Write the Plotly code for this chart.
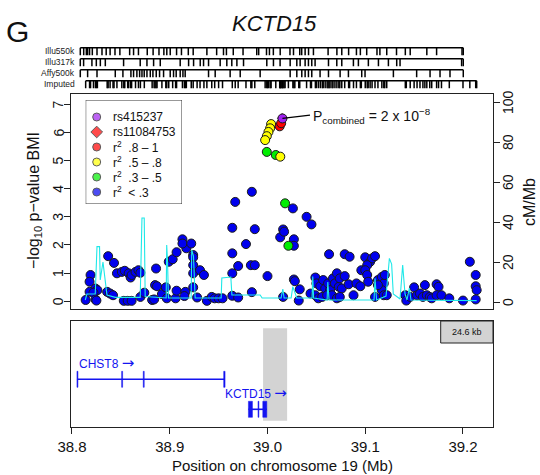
import plotly.graph_objects as go

W, H = 540, 475
FONT = "Liberation Sans, Arial, Helvetica, sans-serif"

# ---------------- data ----------------
blue_pos = [
    38.984, 38.967, 38.964, 38.987, 39.013, 38.978, 38.964, 38.970, 38.983, 38.987,
    38.964, 39.000, 38.984, 38.964, 38.970, 38.837, 38.843, 38.819, 38.818, 38.824,
    38.826, 38.818, 38.822, 38.814, 38.824, 38.825, 38.836, 38.839, 38.842, 38.846,
    38.851, 38.854, 38.858, 38.860, 38.861, 38.865, 38.868, 38.870, 38.853, 38.857,
    38.861, 38.870, 38.874, 38.886, 38.885, 38.887, 38.882, 38.884, 38.892, 38.896,
    38.899, 38.903, 38.897, 38.906, 38.907, 38.916, 38.907, 38.917, 38.913, 38.913,
    38.922, 38.924, 38.924, 38.924, 38.924, 38.924, 38.931, 38.935, 38.928, 38.938,
    38.943, 38.946, 38.950, 38.954, 38.915,
    39.026, 39.040, 39.045, 39.016, 39.017, 39.027, 39.027, 39.063, 39.079, 39.084,
    39.027, 39.028, 39.033, 39.016, 39.032, 39.049, 39.050, 39.054, 39.057, 39.059,
    39.062, 39.064, 39.067, 39.069, 39.071, 39.073, 39.074, 39.076, 39.079, 39.044,
    39.049, 39.052, 39.056, 39.061, 39.066, 39.071, 39.074, 39.083, 39.088, 39.091,
    39.095, 39.100, 39.105, 39.107, 39.110, 39.102, 39.096, 39.100, 39.102, 39.103,
    39.113, 39.117, 39.119, 39.120, 39.117, 39.119, 39.113, 39.110, 39.122, 39.141,
    39.142, 39.146, 39.150, 39.153, 39.156, 39.159, 39.161, 39.163, 39.166, 39.168,
    39.173, 39.175, 39.173, 39.178, 39.186, 39.200, 39.207, 39.213, 39.213, 39.214,
    39.213,
]
blue_logp = [
    3.89, 3.53, 2.61, 2.56, 2.27, 2.03, 1.70, 1.25, 1.28, 1.28,
    0.99, 0.89, 0.32, 0.19, 0.13, 1.60, 1.36, 0.93, 0.69, 0.45,
    0.39, 0.33, 0.30, 0.04, 0.06, 0.02, 0.33, 0.27, 0.21, 0.99,
    1.04, 1.08, 0.99, 0.84, 0.93, 1.04, 1.10, 1.01, 0.01, 0.01,
    0.01, 0.15, 0.30, 1.16, 0.57, 0.53, 0.04, 0.06, 0.25, 0.49,
    1.40, 1.49, 0.10, 0.10, 0.37, 0.33, 1.74, 1.88, 2.20, 2.05,
    2.05, 1.64, 1.56, 1.28, 0.99, 0.49, 1.10, 0.93, 0.13, 0.01,
    0.15, 0.10, 0.10, 0.10, 0.18,
    3.30, 3.00, 2.73, 2.55, 2.47, 2.20, 1.97, 1.67, 1.67, 1.58,
    0.77, 0.71, 0.42, 0.15, 0.02, 0.84, 0.63, 0.53, 0.75, 0.45,
    0.63, 0.39, 0.81, 0.63, 0.99, 0.51, 0.81, 0.45, 0.89, 0.27,
    0.21, 0.10, 0.15, 0.21, 0.21, 0.10, 0.15, 0.60, 0.21, 0.63,
    0.53, 1.56, 1.40, 1.52, 1.60, 1.28, 1.10, 1.10, 0.93, 0.69,
    0.75, 0.86, 0.63, 0.93, 0.39, 0.21, 0.57, 0.15, 0.21, 0.21,
    0.02, 0.15, 0.49, 0.21, 0.27, 0.15, 0.57, 0.21, 0.15, 0.10,
    0.60, 0.51, 0.21, 0.21, 0.10, 0.02, 1.40, 0.93, 0.53, 0.39,
    0.06,
]
green_pos = [38.9993, 39.0085, 39.0180, 39.0214]
green_logp = [5.31, 5.20, 3.48, 1.97]
yellow_pos = [39.0037, 39.0027, 39.0010, 38.9993, 38.9976, 39.0131]
yellow_logp = [6.30, 6.15, 6.02, 5.87, 5.73, 5.14]
red_pos = [39.0125, 39.0140]
red_logp = [6.22, 6.33]
diamond_pos = [39.0150]
diamond_logp = [6.51]
top_pos = [39.0153]
top_logp = [6.50]

recomb_pos = [38.8136, 38.8153, 38.8238, 38.8256, 38.8282, 38.8289, 38.8317, 38.8340, 38.8358, 38.8443,
              38.8698, 38.8716, 38.8739, 38.8749, 38.8964, 38.8969, 38.8977, 38.8987, 38.9219, 38.9225,
              38.9243, 38.9260, 38.9526, 38.9533, 38.9625, 38.9636, 38.9925, 38.9945, 39.0139, 39.0157,
              39.0170, 39.0242, 39.0259, 39.0300, 39.0456, 39.0463, 39.0472, 39.0610, 39.0617, 39.0630,
              39.1090, 39.1100, 39.1116, 39.1213, 39.1247, 39.1270, 39.1287, 39.1356, 39.1383, 39.1407,
              39.1427, 39.1451, 39.1468, 39.2140]
recomb_rate = [1, 4, 4, 27.7, 27.7, 11, 20, 11, 3.5, 2.3,
               2.3, 42, 42, 2.7, 2, 28.5, 21, 2, 2, 26,
               23, 2, 2, 12, 12.5, 3.5, 3.5, 2, 2, 6.5,
               2, 2, 7.7, 2, 2, 12.7, 2, 1, 10, 1,
               1, 11.8, 1, 3, 21.8, 19, 4, 1.5, 18.5, 4,
               1, 7, 1, 0.7]

illu550k = [38.8085, 38.8120, 38.8147, 38.8160, 38.8180, 38.8208, 38.8256, 38.8307, 38.8350, 38.8390,
            38.8440, 38.8490, 38.8590, 38.8630, 38.8680, 38.8770, 38.8830, 38.8890, 38.8940, 38.8970,
            38.9005, 38.9070, 38.9120, 38.9190, 38.9240, 38.9380, 38.9480, 38.9550, 38.9580, 38.9650,
            38.9750, 38.9890, 38.9910, 38.9990, 39.0020, 39.0060, 39.0130, 39.0230, 39.0266, 39.0330,
            39.0350, 39.0385, 39.0420, 39.0470, 39.0620, 39.0710, 39.0760, 39.0830, 39.0910, 39.0950,
            39.1015, 39.1120, 39.1150, 39.1220, 39.1320, 39.1410, 39.1460, 39.1630, 39.1730, 39.1990,
            39.2003]
illu317k = [38.8085, 38.8119, 38.8204, 38.8249, 38.8290, 38.8341, 38.8528, 38.8698, 38.8767, 38.8835,
            38.8903, 38.9107, 38.9193, 38.9244, 38.9312, 38.9346, 38.9397, 38.9516, 38.9584, 38.9635,
            38.9687, 38.9755, 38.9993, 39.0061, 39.0129, 39.0232, 39.0300, 39.0334, 39.0385, 39.0419,
            39.0453, 39.0487, 39.0624, 39.0709, 39.0760, 39.0879, 39.0930, 39.1032, 39.1135, 39.1237,
            39.1322, 39.1356, 39.1986, 39.2003]
affy500k = [38.8085, 38.8160, 38.8256, 38.8443, 38.8521, 38.8603, 38.8630, 38.8664, 38.8692, 38.8716,
            38.8739, 38.8767, 38.8801, 38.8828, 38.8862, 38.8896, 38.8937, 38.9005, 38.9039, 38.9066,
            38.9107, 38.9135, 38.9158, 38.9397, 38.9465, 38.9618, 38.9721, 38.9925, 39.0232, 39.0300,
            39.0351, 39.0385, 39.0419, 39.0453, 39.0538, 39.0624, 39.0743, 39.0828, 39.0964, 39.0998,
            39.1288, 39.1526, 39.1663, 39.1765, 39.1867, 39.2003]
imputed = sorted(set(blue_pos + green_pos + yellow_pos + red_pos + diamond_pos + top_pos))
track_names = ["Imputed", "Affy500k", "Illu317k", "Illu550k"]
track_sets = [imputed, affy500k, illu317k, illu550k]

gene_names = ["CHST8", "KCTD15"]
gene_start = [38.8051, 38.9805]
gene_end = [38.9565, 38.9993]
gene_row = [47.7, 17.7]
exon_start = [[38.8051, 38.8508, 38.8729, 38.9552], [38.9805, 38.9903, 38.9952]]
exon_end = [[38.8061, 38.8518, 38.8739, 38.9566], [38.9846, 38.9912, 38.9993]]
region_start, region_end = 38.9955, 39.0201
region_label = "24.6 kb"

x_ticks = [38.8, 38.9, 39.0, 39.1, 39.2]
y_ticks = [0, 1, 2, 3, 4, 5, 6, 7]
r_ticks = [0, 20, 40, 60, 80, 100]

# --------------- helpers (layout only) ---------------
def px(p):
    return p / W

def py(p):
    return 1 - p / H

XR = [38.799, 39.2307]
XDOM = [px(71), px(493)]
ARROW = "<span style='font-family:DejaVu Sans;font-size:15px'>\u2192</span>"

fig = go.Figure()

MK_LINE = dict(color="#1a1a1a", width=1)

# recombination line
fig.add_trace(go.Scatter(x=recomb_pos, y=recomb_rate, mode="lines", xaxis="x", yaxis="y2",
                         line=dict(color="#1EE8E8", width=1.1), hoverinfo="skip"))

fig.add_trace(go.Scatter(x=blue_pos, y=blue_logp, mode="markers", xaxis="x", yaxis="y",
                         marker=dict(size=9, color="#0000EE", line=MK_LINE)))
fig.add_trace(go.Scatter(x=green_pos, y=green_logp, mode="markers", xaxis="x", yaxis="y",
                         marker=dict(size=9, color="#00EE00", line=MK_LINE)))
fig.add_trace(go.Scatter(x=yellow_pos, y=yellow_logp, mode="markers", xaxis="x", yaxis="y",
                         marker=dict(size=9, color="#FFFF00", line=MK_LINE)))
fig.add_trace(go.Scatter(x=red_pos, y=red_logp, mode="markers", xaxis="x", yaxis="y",
                         marker=dict(size=9, color="#FF0000", line=MK_LINE)))
fig.add_trace(go.Scatter(x=diamond_pos, y=diamond_logp, mode="markers", xaxis="x", yaxis="y",
                         marker=dict(size=7, symbol="diamond", color="#FF0000", line=MK_LINE)))
fig.add_trace(go.Scatter(x=top_pos, y=top_logp, mode="markers", xaxis="x", yaxis="y",
                         marker=dict(size=9, color="#A020F0", line=MK_LINE)))

# SNP platform tracks
for i, (name, pos) in enumerate(zip(track_names, track_sets)):
    xs, ys = [], []
    for p in pos:
        xs += [p, p, None]
        ys += [i - 0.34, i + 0.34, None]
    xs += [pos[0], pos[-1], None]
    ys += [i + 0.34, i + 0.34, None]
    fig.add_trace(go.Scatter(x=xs, y=ys, mode="lines", xaxis="x3", yaxis="y4",
                             line=dict(color="black", width=1.5), hoverinfo="skip"))

# legend keys
leg_rows = [17, 32, 47, 62, 77, 92]
leg_symbols = ["circle", "diamond", "circle", "circle", "circle", "circle"]
leg_colors = ["#A020F0", "#FF0000", "#FF0000", "#FFFF00", "#00EE00", "#0000EE"]
leg_texts = ["rs415237", "rs11084753", "r<sup>2</sup>  .8 \u2013 1", "r<sup>2</sup>  .5 \u2013 .8",
             "r<sup>2</sup>  .3 \u2013 .5", "r<sup>2</sup>  &lt; .3"]
fig.add_trace(go.Scatter(x=[11] * 6, y=leg_rows, mode="markers", xaxis="x4", yaxis="y5",
                         marker=dict(size=[8, 9, 8, 8, 8, 8], symbol=leg_symbols, color=leg_colors,
                                     line=MK_LINE)))

shapes = []
annotations = []

# legend box
shapes.append(dict(type="rect", xref="x4", yref="y5", x0=0, x1=96.3, y0=0, y1=104,
                   line=dict(color="#333", width=1), fillcolor="rgba(0,0,0,0)"))
for r, t in zip(leg_rows, leg_texts):
    annotations.append(dict(xref="x4", yref="y5", x=25, y=r, text=t, showarrow=False,
                            xanchor="left", yanchor="middle", font=dict(size=12, color="#111")))

# P combined annotation
lab_x, lab_y = 39.0447, 6.60
shapes.append(dict(type="line", xref="x", yref="y", x0=top_pos[0], y0=top_logp[0], x1=lab_x - 0.0012,
                   y1=lab_y + 0.02, line=dict(color="black", width=1.3)))
annotations.append(dict(xref="x", yref="y", x=lab_x, y=lab_y, xanchor="left", yanchor="middle",
                        text="P<sub>combined</sub> = 2 x 10<sup>\u22128</sup>", showarrow=False,
                        font=dict(size=14, color="#111")))

# y-axis tick labels (rotated, parallel to the axes)
for v in y_ticks:
    annotations.append(dict(xref="paper", yref="y", x=px(58), y=v, text=str(v), showarrow=False,
                            textangle=-90, xanchor="center", yanchor="middle",
                            font=dict(size=14, color="#111")))
for v in r_ticks:
    annotations.append(dict(xref="paper", yref="y2", x=px(508), y=v, text=str(v), showarrow=False,
                            textangle=-90, xanchor="center", yanchor="middle",
                            font=dict(size=14, color="#111")))

# gene panel
shapes.append(dict(type="rect", xref="x2", yref="y3", x0=region_start, x1=region_end, y0=6.3, y1=98.7,
                   fillcolor="#D3D3D3", line=dict(width=0), layer="below"))
shapes.append(dict(type="rect", xref="x2", yref="y3", x0=39.1772, x1=XR[1], y0=84, y1=106,
                   fillcolor="#D3D3D3", line=dict(color="#222", width=1)))
annotations.append(dict(xref="x2", yref="y3", x=(39.1772 + XR[1]) / 2, y=95, text=region_label,
                        showarrow=False, font=dict(size=9, color="#111")))
for g in range(len(gene_names)):
    row = gene_row[g]
    shapes.append(dict(type="line", xref="x2", yref="y3", x0=gene_start[g], x1=gene_end[g],
                       y0=row, y1=row, line=dict(color="#1414F0", width=1.6)))
    for es, ee in zip(exon_start[g], exon_end[g]):
        shapes.append(dict(type="rect", xref="x2", yref="y3", x0=es, x1=ee, y0=row - 8, y1=row + 8,
                           fillcolor="#1414F0", line=dict(color="#1414F0", width=0.5)))
annotations.append(dict(xref="x2", yref="y3", x=gene_start[0], y=gene_row[0] + 16,
                        text=gene_names[0] + " " + ARROW, showarrow=False, xanchor="left",
                        font=dict(size=12, color="#1414F0")))
annotations.append(dict(xref="x2", yref="y3", x=(gene_start[1] + gene_end[1]) / 2 - 0.0013,
                        y=gene_row[1] + 16, text=gene_names[1] + " " + ARROW, showarrow=False,
                        xanchor="center", font=dict(size=12, color="#1414F0")))

# track labels
for i, name in enumerate(track_names):
    annotations.append(dict(xref="paper", yref="y4", x=px(77), y=i, text=name, showarrow=False,
                            xanchor="right", yanchor="middle", font=dict(size=8.5, color="#222")))

# titles
annotations += [
    dict(xref="paper", yref="paper", x=px(274), y=py(24), text="<i>KCTD15</i>", showarrow=False,
         font=dict(size=22, color="#111"), xanchor="center", yanchor="middle"),
    dict(xref="paper", yref="paper", x=px(4), y=py(32), text="G", showarrow=False,
         font=dict(size=30, color="#111"), xanchor="left", yanchor="middle"),
    dict(xref="paper", yref="paper", x=px(282), y=py(465), text="Position on chromosome 19 (Mb)",
         showarrow=False, font=dict(size=15, color="#111"), xanchor="center", yanchor="middle"),
    dict(xref="paper", yref="paper", x=px(34), y=py(201), text="\u2212log<sub>10</sub> p\u2212value BMI",
         showarrow=False, textangle=-90, font=dict(size=16, color="#111"), xanchor="center",
         yanchor="middle"),
    dict(xref="paper", yref="paper", x=px(530), y=py(202), text="cM/Mb", showarrow=False,
         textangle=-90, font=dict(size=16, color="#111"), xanchor="center", yanchor="middle"),
]

hidden = dict(visible=False, showgrid=False, zeroline=False, automargin=False)
AX = dict(showgrid=False, zeroline=False, automargin=False, linecolor="#222", linewidth=1,
          tickcolor="#222", tickfont=dict(size=14, color="#111", family=FONT))

fig.update_layout(
    template="none",
    width=W, height=H, margin=dict(l=0, r=0, t=0, b=0, pad=0, autoexpand=False),
    paper_bgcolor="white", plot_bgcolor="white", showlegend=False,
    font=dict(family=FONT, color="#111"),
    xaxis=dict(domain=XDOM, range=XR, anchor="y", showticklabels=False, ticks="",
               showline=True, mirror=True, **{k: v for k, v in AX.items() if k != "tickfont"}),
    yaxis=dict(domain=[py(309), py(94)], range=[-0.28, 7.37], anchor="x", tickvals=y_ticks,
               showticklabels=False, ticks="outside", ticklen=6, showline=True, mirror=True, **AX),
    yaxis2=dict(overlaying="y", side="right", anchor="x", range=[-3.5, 104], tickvals=r_ticks,
                showticklabels=False, ticks="outside", ticklen=6, showline=False, **AX),
    xaxis2=dict(domain=XDOM, range=XR, anchor="y3", tickvals=x_ticks, ticktext=[f"{v:.1f}" for v in x_ticks],
                ticks="outside", ticklen=6, showline=True, mirror=True,
                **{**AX, "tickfont": dict(size=15, color="#111", family=FONT)}),
    yaxis3=dict(domain=[py(427), py(321)], range=[0, 106], anchor="x2", showticklabels=False, ticks="",
                showline=True, mirror=True, **AX),
    xaxis3=dict(domain=XDOM, range=XR, anchor="y4", **hidden),
    yaxis4=dict(domain=[py(90), py(46)], range=[-0.5, 3.5], anchor="x3", **hidden),
    xaxis4=dict(domain=[px(85.7), px(182)], range=[0, 96.3], anchor="y5", **hidden),
    yaxis5=dict(domain=[py(204), py(100)], range=[104, 0], anchor="x4", **hidden),
    shapes=shapes, annotations=annotations,
)

fig.write_html("out.html")
